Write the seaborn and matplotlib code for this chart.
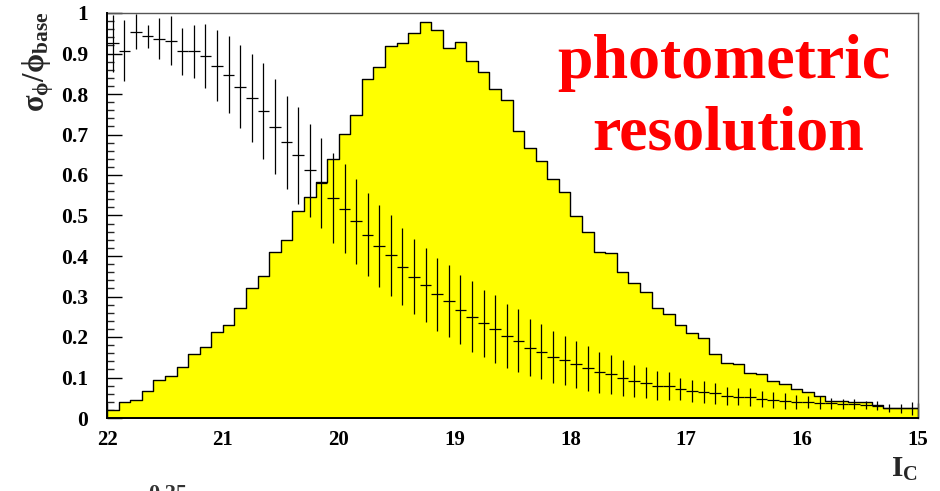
import numpy as np
import pandas as pd
import matplotlib
matplotlib.use("Agg")
import matplotlib.pyplot as plt
from matplotlib.ticker import MultipleLocator, FuncFormatter
import seaborn as sns

# Magnitude binning: 70 bins of 0.1 mag from I_C = 22 (faint) to 15 (bright)
mag_faint = 22.0
mag_bright = 15.0
bin_width = 0.1

# Normalised star counts per bin, ordered from faint (22) to bright (15)
star_counts = [
    0.019, 0.040, 0.044, 0.066, 0.093, 0.104, 0.125, 0.158, 0.176, 0.212,
    0.230, 0.272, 0.321, 0.351, 0.409, 0.439, 0.510, 0.545, 0.583, 0.639,
    0.701, 0.747, 0.836, 0.866, 0.918, 0.925, 0.951, 0.979, 0.958, 0.913,
    0.928, 0.881, 0.855, 0.813, 0.784, 0.709, 0.667, 0.635, 0.589, 0.559,
    0.499, 0.459, 0.411, 0.407, 0.360, 0.334, 0.311, 0.272, 0.258, 0.230,
    0.211, 0.197, 0.157, 0.137, 0.133, 0.112, 0.108, 0.091, 0.085, 0.072,
    0.063, 0.055, 0.043, 0.043, 0.040, 0.039, 0.032, 0.024, 0.024, 0.024,
]

# Photometric resolution sigma_phi / phi_base per bin and its spread
resolution = [
    0.925, 0.907, 0.954, 0.942, 0.937, 0.932, 0.905, 0.905, 0.894, 0.870,
    0.847, 0.818, 0.791, 0.758, 0.719, 0.681, 0.649, 0.612, 0.580, 0.544,
    0.517, 0.486, 0.453, 0.425, 0.402, 0.374, 0.349, 0.328, 0.306, 0.289,
    0.267, 0.250, 0.234, 0.220, 0.203, 0.191, 0.174, 0.164, 0.151, 0.142,
    0.133, 0.123, 0.113, 0.108, 0.098, 0.091, 0.087, 0.080, 0.079, 0.071,
    0.067, 0.065, 0.061, 0.054, 0.053, 0.051, 0.047, 0.044, 0.042, 0.040,
    0.039, 0.038, 0.036, 0.035, 0.034, 0.032, 0.030, 0.024, 0.024, 0.024,
]
resolution_err = [
    0.070, 0.075, 0.044, 0.029, 0.050, 0.060, 0.058, 0.065, 0.079, 0.087,
    0.095, 0.102, 0.109, 0.118, 0.117, 0.115, 0.120, 0.115, 0.112, 0.111,
    0.110, 0.105, 0.102, 0.102, 0.100, 0.095, 0.092, 0.092, 0.090, 0.089,
    0.085, 0.088, 0.083, 0.083, 0.079, 0.078, 0.070, 0.068, 0.064, 0.061,
    0.058, 0.056, 0.051, 0.048, 0.044, 0.040, 0.038, 0.035, 0.035, 0.027,
    0.027, 0.027, 0.026, 0.023, 0.022, 0.022, 0.020, 0.019, 0.019, 0.018,
    0.015, 0.016, 0.013, 0.013, 0.012, 0.011, 0.011, 0.010, 0.011, 0.016,
]

x_ticks = [22, 21, 20, 19, 18, 17, 16, 15]

n_bins = len(star_counts)
edges = np.linspace(mag_bright, mag_faint, n_bins + 1).tolist()
centers = mag_faint - bin_width * (np.arange(n_bins) + 0.5)
hist_df = pd.DataFrame({"mag": centers, "count": star_counts})

sns.set_theme(style="white")
plt.rcParams["font.family"] = ["Liberation Serif", "DejaVu Serif"]
plt.rcParams["font.weight"] = "bold"
plt.rcParams["mathtext.fontset"] = "custom"
plt.rcParams["mathtext.rm"] = "Liberation Serif:bold"
plt.rcParams["mathtext.bf"] = "Liberation Serif:bold"
plt.rcParams["mathtext.it"] = "Liberation Serif:bold"
plt.rcParams["mathtext.default"] = "bf"

fig = plt.figure(figsize=(9.40, 4.91), dpi=100)
ax = fig.add_axes([107 / 940, 1 - 418 / 491, 811 / 940, 405 / 491])

sns.histplot(
    data=hist_df, x="mag", weights="count", bins=edges, element="step",
    fill=True, color="#ffff00", alpha=1.0, edgecolor="black", linewidth=1.0,
    ax=ax,
)

ax.errorbar(
    centers, resolution, xerr=bin_width / 2, yerr=resolution_err,
    fmt="none", ecolor="black", elinewidth=0.9, capsize=0, zorder=3,
)

ax.set_xlim(mag_faint, mag_bright)
ax.set_ylim(0, 1)
ax.set_xlabel("")
ax.set_ylabel("")

ax.set_xticks(x_ticks)
ax.set_xticklabels([str(t) for t in x_ticks])
ax.yaxis.set_major_locator(MultipleLocator(0.1))
ax.yaxis.set_minor_locator(MultipleLocator(0.02))
ax.yaxis.set_major_formatter(
    FuncFormatter(lambda v, _: "0" if abs(v) < 1e-9 else ("1" if abs(v - 1) < 1e-9 else f"{v:.1f}"))
)

ax.tick_params(axis="x", which="major", direction="in", length=11, width=1.0,
               labelsize=15, pad=8.5, colors="black", bottom=True, top=False)
ax.tick_params(axis="y", which="major", direction="in", length=11, width=1.0,
               labelsize=15.5, pad=13.5, colors="black", left=True, right=False)
ax.tick_params(axis="y", which="minor", direction="in", length=5, width=1.0,
               left=True, right=False)
for lab in ax.get_xticklabels() + ax.get_yticklabels():
    lab.set_fontweight("bold")

for side in ("left", "bottom"):
    ax.spines[side].set_color("black")
    ax.spines[side].set_linewidth(1.4)
for side in ("top", "right"):
    ax.spines[side].set_color("#555555")
    ax.spines[side].set_linewidth(1.0)
ax.spines["left"].set_zorder(5)
ax.spines["bottom"].set_zorder(5)

# Axis titles in ROOT style
fig.text(38 / 940, 1 - 11 / 491, r"$\mathbf{\sigma_{\phi}/\phi_{base}}$",
         rotation=90, ha="center", va="top", fontsize=22)
fig.text(918 / 940, 1 - 456 / 491, r"$\mathbf{I_C}$",
         ha="right", va="top", fontsize=21)

# Panel annotation
fig.text(724 / 940, 1 - 78 / 491, "photometric", color="#ff0000",
         fontsize=46, fontweight="bold", ha="center", va="baseline")
fig.text(728 / 940, 1 - 150 / 491, "resolution", color="#ff0000",
         fontsize=46, fontweight="bold", ha="center", va="baseline")

# Top of the axis label of the panel below
fig.text(148 / 940, 1 - 484 / 491, "0.25", color="#333333",
         fontsize=16, fontweight="bold", ha="left", va="top")

fig.savefig("out.png", dpi=100, facecolor="white")
